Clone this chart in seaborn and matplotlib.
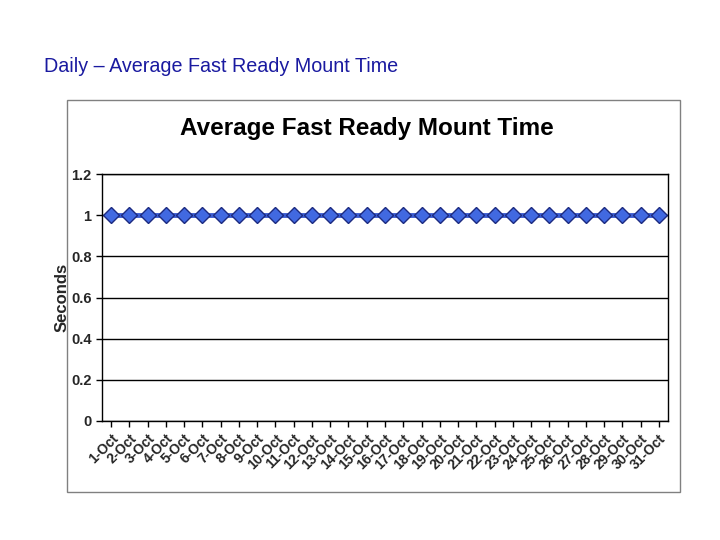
import pandas as pd
import seaborn as sns
import matplotlib.pyplot as plt
from matplotlib.patches import Rectangle

# Data
days = [f"{d}-Oct" for d in range(1, 32)]
seconds = [1] * 31

df = pd.DataFrame({"Day": days, "Seconds": seconds})

sns.set_style("white")
plt.rcParams["font.family"] = ["Liberation Sans", "DejaVu Sans"]

fig = plt.figure(figsize=(7.2, 5.4), dpi=100)

# slide heading
fig.text(44 / 720, 1 - 67 / 540, "Daily \u2013 Average Fast Ready Mount Time",
         fontsize=14.2, color="#1a1aa0", va="center", ha="left")

# grey frame round the chart
fig.patches.append(Rectangle((67 / 720, 1 - 492 / 540), 613 / 720, 392 / 540,
                             transform=fig.transFigure, fill=False,
                             edgecolor="#808080", linewidth=1))

# chart title
fig.text(367 / 720, 1 - 129 / 540, "Average Fast Ready Mount Time",
         fontsize=17.5, fontweight="bold", color="black",
         ha="center", va="center")

ax = fig.add_axes([102 / 720, 1 - 421 / 540, 566 / 720, 247 / 540])
sns.lineplot(data=df, x="Day", y="Seconds", ax=ax, sort=False,
             color="#3b5bd0", linewidth=3.5, marker="D", markersize=8.5,
             markerfacecolor="#4169e1", markeredgecolor="#1c2a80",
             markeredgewidth=1)

ax.set_xlim(-0.5, 30.5)
ax.set_ylim(0, 1.2)
ax.set_yticks([0, 0.2, 0.4, 0.6, 0.8, 1, 1.2])
ax.set_yticklabels(["0", "0.2", "0.4", "0.6", "0.8", "1", "1.2"],
                   fontsize=10.5, fontweight="bold")
ax.set_xticks(range(len(days)))
ax.set_xticklabels(days, rotation=45, ha="right", rotation_mode="anchor",
                   fontsize=10, fontweight="bold")
ax.yaxis.grid(True, color="black", linewidth=1)
ax.xaxis.grid(False)
ax.tick_params(axis="both", direction="out", length=4, width=1,
               color="black", bottom=True, left=True)
for s in ax.spines.values():
    s.set_color("black")
    s.set_linewidth(1)

ax.set_xlabel("")
ax.set_ylabel("Seconds", fontsize=12, fontweight="bold", labelpad=1)

fig.savefig("out.png", dpi=100)
